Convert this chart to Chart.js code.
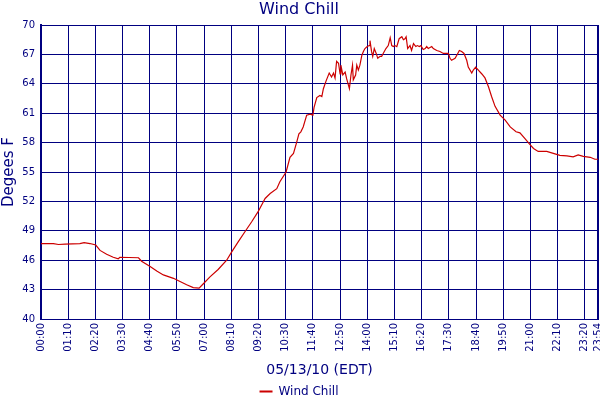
<!DOCTYPE html>
<html>
<head>
<meta charset="utf-8">
<script src="https://cdn.jsdelivr.net/npm/chart.js@4.4.1/dist/chart.umd.min.js"></script>
<style>
  html, body { margin: 0; padding: 0; background: #ffffff; }
  #wrap { width: 600px; height: 400px; }
</style>
</head>
<body>
<div id="wrap"><canvas id="c" width="600" height="400"></canvas></div>
<script>
// minutes after midnight
const timeMinutes = [
  0, 32, 45, 62, 100, 111, 126, 141, 152, 169, 186, 199, 203, 251, 259, 281, 298, 315, 341, 354,
  375, 392, 407, 418, 435, 456, 478, 491, 508, 525, 542, 559, 577, 590, 607, 615, 631, 641, 650, 658,
  664, 669, 675, 684, 693, 700, 703, 710, 718, 723, 727, 734, 742, 748, 753, 757, 761, 766, 770, 772,
  777, 783, 787, 794, 798, 802, 804, 810, 813, 817, 821, 826, 830, 834, 840, 845, 847, 851, 854, 858,
  863, 867, 873, 877, 881, 888, 894, 899, 903, 907, 911, 916, 922, 929, 933, 937, 940, 944, 950, 954,
  959, 965, 969, 974, 978, 984, 989, 993, 997, 1006, 1010, 1019, 1027, 1036, 1049, 1053, 1057, 1066, 1073, 1077,
  1083, 1089, 1096, 1100, 1109, 1113, 1119, 1126, 1135, 1143, 1152, 1160, 1169, 1182, 1195, 1208, 1223, 1233, 1246, 1259,
  1268, 1280, 1302, 1319, 1336, 1354, 1370, 1383, 1396, 1414, 1426, 1434
];
const windChill = [
  47.7, 47.7, 47.6, 47.65, 47.7, 47.8, 47.7, 47.55, 47.0, 46.6, 46.3, 46.15, 46.3, 46.25, 45.9, 45.35, 44.9, 44.5, 44.15, 43.9,
  43.5, 43.2, 43.15, 43.6, 44.3, 45.05, 46.0, 46.85, 47.9, 48.9, 49.9, 50.95, 52.3, 52.8, 53.3, 54.0, 55.0, 56.5, 56.9, 58.0,
  58.9, 59.1, 59.6, 60.8, 60.9, 60.8, 61.6, 62.6, 62.8, 62.7, 63.5, 64.3, 65.1, 64.7, 65.1, 64.6, 66.3, 66.1, 65.0, 65.9,
  64.9, 65.2, 64.5, 63.5, 64.9, 65.9, 64.4, 64.9, 65.9, 65.4, 65.9, 66.9, 67.3, 67.6, 67.8, 67.9, 68.4, 67.3, 66.8, 67.6,
  67.1, 66.6, 66.8, 66.8, 67.1, 67.6, 67.9, 68.7, 67.9, 67.8, 67.9, 67.8, 68.6, 68.8, 68.5, 68.6, 68.8, 67.6, 67.9, 67.4,
  68.1, 67.8, 67.9, 67.8, 67.9, 67.5, 67.6, 67.8, 67.6, 67.8, 67.6, 67.4, 67.3, 67.1, 67.1, 66.6, 66.4, 66.6, 67.1, 67.4,
  67.3, 67.1, 66.4, 65.7, 65.1, 65.4, 65.7, 65.4, 65.0, 64.6, 63.7, 62.7, 61.7, 60.8, 60.3, 59.6, 59.1, 59.0, 58.4, 57.8,
  57.4, 57.1, 57.1, 56.9, 56.7, 56.65, 56.55, 56.75, 56.6, 56.5, 56.3, 56.3
];
const xTickMinutes = [0, 70, 140, 210, 280, 350, 420, 490, 560, 630, 700, 770, 840, 910, 980, 1050, 1120, 1190, 1260, 1330, 1400, 1434];
const yTickValues = [40, 43, 46, 49, 52, 55, 58, 61, 64, 67, 70];
const seriesName = 'Wind Chill';
const chartTitle = 'Wind Chill';
const xTitle = '05/13/10 (EDT)';
const yTitle = 'Degees F';

const NAVY = '#000080';
const RED = '#cc0000';
Chart.defaults.font.family = "'DejaVu Sans', Verdana, sans-serif";
Chart.defaults.color = NAVY;

function fmtTime(m) {
  const h = Math.floor(m / 60), mm = Math.round(m % 60);
  return String(h).padStart(2, '0') + ':' + String(mm).padStart(2, '0');
}

const points = timeMinutes.map((t, i) => ({ x: t, y: windChill[i] }));

new Chart(document.getElementById('c'), {
  type: 'line',
  data: {
    datasets: [{
      label: seriesName,
      data: points,
      borderColor: RED,
      backgroundColor: RED,
      borderWidth: 1.2,
      pointRadius: 0,
      pointStyle: 'line',
      tension: 0,
      fill: false
    }]
  },
  options: {
    responsive: false,
    animation: false,
    devicePixelRatio: 1,
    layout: { padding: { top: 0, left: 0, right: 2, bottom: -7.5 } },
    plugins: {
      title: {
        display: true,
        text: chartTitle,
        color: NAVY,
        font: { size: 16, weight: 'normal' },
        padding: { top: 0.5, bottom: 5.3 }
      },
      legend: {
        display: true,
        position: 'bottom',
        labels: {
          color: NAVY,
          font: { size: 12 },
          usePointStyle: true,
          pointStyleWidth: 13,
          padding: 3,
          generateLabels(chart) {
            const items = Chart.defaults.plugins.legend.labels.generateLabels(chart);
            items.forEach(it => { it.lineWidth = 2; it.strokeStyle = RED; it.fontColor = NAVY; });
            return items;
          }
        }
      },
      tooltip: { enabled: false }
    },
    scales: {
      x: {
        type: 'linear',
        min: 0,
        max: 1434,
        afterBuildTicks(scale) { scale.ticks = xTickMinutes.map(v => ({ value: v })); },
        afterFit(scale) {
          scale.height = 63.5;
          scale.paddingLeft = 0; scale.paddingRight = 0;
        },
        ticks: {
          autoSkip: false,
          minRotation: 90,
          maxRotation: 90,
          padding: 4,
          color: NAVY,
          font: { size: 10 },
          callback: (v) => fmtTime(v)
        },
        grid: {
          color: NAVY,
          lineWidth: (ctx) => (ctx.tick && ctx.tick.value === 1434 ? 2 : 1),
          drawTicks: false
        },
        border: { color: NAVY, width: 1 },
        title: {
          display: true,
          text: xTitle,
          color: NAVY,
          font: { size: 14 },
          padding: { top: 0, bottom: 4.1 }
        }
      },
      y: {
        type: 'linear',
        min: 40,
        max: 70,
        afterBuildTicks(scale) { scale.ticks = yTickValues.map(v => ({ value: v })); },
        afterFit(scale) {
          scale.width = 41;
          scale.paddingTop = 0; scale.paddingBottom = 0;
        },
        ticks: {
          padding: 6,
          color: NAVY,
          font: { size: 10 }
        },
        grid: {
          color: NAVY,
          lineWidth: 1,
          drawTicks: false
        },
        border: { color: NAVY, width: 2 },
        title: {
          display: true,
          text: yTitle,
          color: NAVY,
          font: { size: 15 },
          padding: { top: 0, bottom: 0 }
        }
      }
    }
  }
});
</script>
</body>
</html>
